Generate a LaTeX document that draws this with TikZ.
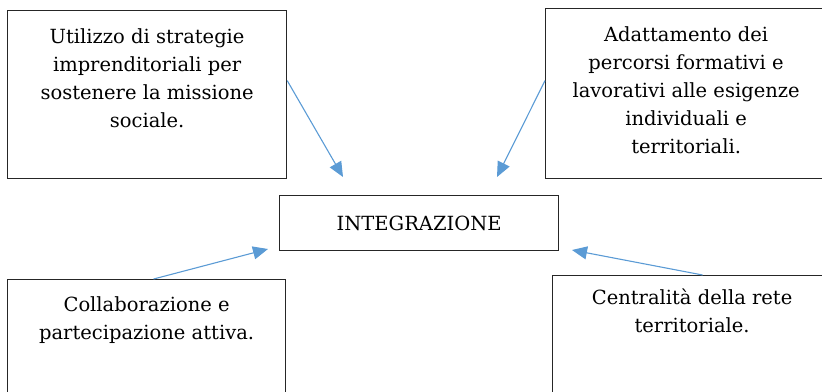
\documentclass[tikz,border=0pt]{standalone}
\usepackage{fontspec}
\setmainfont{DejaVu Serif}
\usetikzlibrary{arrows.meta,positioning}
\definecolor{arrowblue}{HTML}{5B9BD5}

\begin{document}
\begin{tikzpicture}[x=1bp,y=-1bp]
\tikzstyle{box}=[rectangle,draw=black!85,line width=1.2bp,anchor=north west,inner sep=0pt,minimum width=279bp]
\tikzstyle{boxtext}=[align=center,anchor=north,inner sep=0pt,font=\fontsize{19.5bp}{28bp}\selectfont]
\tikzstyle{link}=[draw=arrowblue,line width=1.1bp,-{Triangle[length=15bp,width=13bp]}]

\useasboundingbox (0,0) rectangle (822,391);
\clip (0,0) rectangle (822,391);

\node[box,minimum height=168bp] (strategie) at (7,10) {};
\node[boxtext] (strategieText) at ([yshift=-18bp]strategie.north) {Utilizzo di strategie\\imprenditoriali per\\sostenere la missione\\sociale.};

\node[box,minimum width=281bp,minimum height=170bp] (adattamento) at (545,8) {};
\node[boxtext] (adattamentoText) at ([yshift=-18bp]adattamento.north) {Adattamento dei\\percorsi formativi e\\lavorativi alle esigenze\\individuali e\\territoriali.};

\node[box,minimum height=55bp] (integrazione) at (279,195) {};
\node[font=\fontsize{19.5bp}{28bp}\selectfont,inner sep=0pt] (integrazioneText) at (integrazione.center) {INTEGRAZIONE};

\node[box,minimum width=278bp,minimum height=150bp] (collaborazione) at (7,279) {};
\node[boxtext] (collaborazioneText) at ([yshift=-17bp]collaborazione.north) {Collaborazione e\\partecipazione attiva.};

\node[box,minimum height=150bp] (rete) at (552,275) {};
\node[boxtext] (reteText) at ([yshift=-14bp]rete.north) {Centralità della rete\\territoriale.};

% free ends of the arrows
\coordinate (endStrategie) at (343,177);
\coordinate (endAdattamento) at (497,177);
\coordinate (endCollaborazione) at (268,249);
\coordinate (endRete) at (572,250);

\draw[link] ([yshift=14bp]strategie.east) -- (endStrategie);
\draw[link] ([yshift=13bp]adattamento.west) -- (endAdattamento);
\draw[link] ([xshift=7bp]collaborazione.north) -- (endCollaborazione);
\draw[link] ([xshift=10.5bp]rete.north) -- (endRete);

\end{tikzpicture}
\end{document}
